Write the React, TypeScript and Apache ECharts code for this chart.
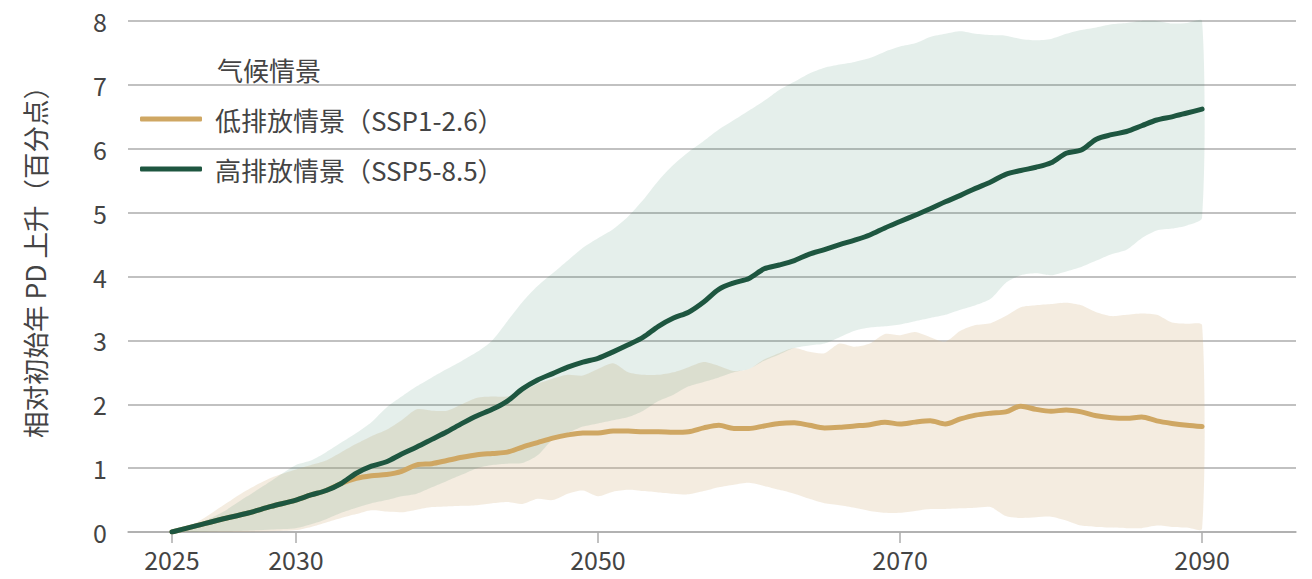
import React, { useEffect, useRef } from "react";
import * as echarts from "echarts";

const years = [
  2025, 2026, 2027, 2028, 2029, 2030, 2031, 2032, 2033, 2034,
  2035, 2036, 2037, 2038, 2039, 2040, 2041, 2042, 2043, 2044,
  2045, 2046, 2047, 2048, 2049, 2050, 2051, 2052, 2053, 2054,
  2055, 2056, 2057, 2058, 2059, 2060, 2061, 2062, 2063, 2064,
  2065, 2066, 2067, 2068, 2069, 2070, 2071, 2072, 2073, 2074,
  2075, 2076, 2077, 2078, 2079, 2080, 2081, 2082, 2083, 2084,
  2085, 2086, 2087, 2088, 2089, 2090,
];

// SSP1-2.6 median
const lowMedian = [
  0, 0.1, 0.2, 0.29, 0.4, 0.5, 0.58, 0.65, 0.76, 0.84,
  0.88, 0.9, 0.95, 1.05, 1.07, 1.12, 1.17, 1.21, 1.23, 1.25,
  1.33, 1.4, 1.47, 1.52, 1.55, 1.55, 1.58, 1.58, 1.57, 1.57,
  1.56, 1.57, 1.63, 1.67, 1.62, 1.62, 1.66, 1.7, 1.71, 1.67,
  1.63, 1.64, 1.66, 1.68, 1.72, 1.69, 1.72, 1.74, 1.69, 1.77,
  1.83, 1.86, 1.88, 1.97, 1.92, 1.89, 1.91, 1.88, 1.82, 1.79,
  1.78, 1.8, 1.74, 1.7, 1.67, 1.65,
];

// SSP5-8.5 median
const highMedian = [
  0, 0.1, 0.2, 0.29, 0.4, 0.5, 0.58, 0.65, 0.76, 0.92,
  1.03, 1.1, 1.22, 1.33, 1.45, 1.57, 1.7, 1.82, 1.92, 2.05,
  2.24, 2.38, 2.48, 2.58, 2.66, 2.72, 2.82, 2.93, 3.05, 3.22,
  3.35, 3.44, 3.6, 3.8, 3.9, 3.97, 4.12, 4.18, 4.25, 4.35,
  4.42, 4.5, 4.57, 4.65, 4.76, 4.86, 4.96, 5.06, 5.17, 5.27,
  5.38, 5.48, 5.6, 5.66, 5.71, 5.78, 5.93, 5.98, 6.15, 6.22,
  6.27, 6.36, 6.45, 6.5, 6.56, 6.62,
];

const lowUpper = [
  0, 0.15, 0.4, 0.65, 0.85, 0.98, 1.05, 1.12, 1.25, 1.38,
  1.5, 1.6, 1.75, 1.92, 1.9, 1.9, 2.0, 2.1, 2.12, 2.12,
  2.2, 2.32, 2.4, 2.46, 2.45, 2.55, 2.64, 2.5, 2.46, 2.46,
  2.5, 2.58, 2.66, 2.6, 2.52, 2.55, 2.7, 2.8, 2.88, 2.82,
  2.8, 2.95, 2.9, 2.95, 3.1, 3.08, 3.13, 3.05, 2.98, 3.15,
  3.24, 3.27, 3.38, 3.52, 3.55, 3.57, 3.59, 3.55, 3.44, 3.38,
  3.4, 3.42, 3.4, 3.28, 3.26, 3.24,
];

const lowLower = [
  0, 0, 0, 0, 0.01, 0.03, 0.08, 0.15, 0.22, 0.28,
  0.34, 0.32, 0.31, 0.35, 0.39, 0.4, 0.41, 0.42, 0.45, 0.47,
  0.44, 0.52, 0.5, 0.6, 0.65, 0.56, 0.63, 0.66, 0.64, 0.62,
  0.6, 0.59, 0.64, 0.7, 0.74, 0.77, 0.72, 0.66, 0.6, 0.52,
  0.45, 0.42, 0.38, 0.33, 0.3, 0.3, 0.33, 0.36, 0.36, 0.37,
  0.38, 0.39, 0.25, 0.22, 0.23, 0.24, 0.18, 0.1, 0.08, 0.07,
  0.06, 0.06, 0.1, 0.08, 0.07, 0.05,
];

const highUpper = [
  0, 0.12, 0.3, 0.55, 0.8, 1.05, 1.12, 1.25, 1.4, 1.55,
  1.72, 1.95, 2.12, 2.28, 2.42, 2.55, 2.68, 2.82, 3.0, 3.3,
  3.6, 3.85, 4.05, 4.25, 4.45, 4.6, 4.74, 4.94, 5.2, 5.5,
  5.75, 5.95, 6.12, 6.3, 6.45, 6.6, 6.75, 6.92, 7.05, 7.18,
  7.27, 7.32, 7.36, 7.42, 7.52, 7.6, 7.65, 7.75, 7.8, 7.84,
  7.8, 7.78, 7.77, 7.72, 7.7, 7.72, 7.8, 7.86, 7.9, 7.95,
  7.97, 8.0, 8.0, 7.96, 7.97, 8.0,
];

const highLower = [
  0, 0, 0.01, 0.02, 0.04, 0.06, 0.12, 0.2, 0.3, 0.38,
  0.45, 0.5, 0.56, 0.6, 0.7, 0.8, 0.9, 1.0, 1.05, 1.07,
  1.08, 1.2, 1.45, 1.55, 1.65, 1.7, 1.75, 1.8, 1.9, 2.05,
  2.15, 2.28, 2.35, 2.42, 2.5, 2.55, 2.68, 2.78, 2.88, 2.92,
  2.95, 3.05, 3.15, 3.2, 3.22, 3.25, 3.3, 3.35, 3.4, 3.48,
  3.55, 3.65, 3.9, 4.02, 4.05, 4.02, 4.08, 4.15, 4.25, 4.35,
  4.42, 4.6, 4.72, 4.75, 4.8, 4.92,
];

const xTickYears = [2025, 2030, 2050, 2070, 2090];
const yTicks = [0, 1, 2, 3, 4, 5, 6, 7, 8];

const LOW_NAME = "低排放情景（SSP1-2.6）";
const HIGH_NAME = "高排放情景（SSP5-8.5）";
const LEGEND_TITLE = "气候情景";
const Y_NAME = "相对初始年 PD 上升（百分点）";

// The source chart stretches its first five years (2025-2030) on the axis.
const START_POS = 2021.79;
const axisPos = (y: number) => (y >= 2030 ? y : START_POS + ((y - 2025) * (2030 - START_POS)) / 5);
const posLabel = (v: number) => {
  const idx = xTickYears.findIndex((y) => Math.abs(axisPos(y) - v) < 0.01);
  return idx >= 0 ? String(xTickYears[idx]) : "";
};

const FONT = "'Noto Sans CJK SC', 'Noto Sans', sans-serif";
const TEXT = "#444444";
const GRID = "#acacac";

export default function App() {
  const ref = useRef<HTMLDivElement>(null);
  useEffect(() => {
    document.body.style.margin = "0";
    if (!ref.current) return;
    const chart = echarts.init(ref.current, undefined, { renderer: "svg" });
    const xs = years.map(axisPos);
    const pair = (arr: number[]) => arr.map((v, i) => [xs[i], v]);

    const band = (lower: number[], upper: number[], fill: string) => ({
      type: "custom" as const,
      silent: true,
      data: xs.map((x, i) => [x, lower[i], upper[i]]),
      encode: { x: 0, y: [1, 2] },
      renderItem: (params: any, api: any) => {
        if (params.dataIndex !== 0) return null;
        const top = xs.map((x, i) => api.coord([x, upper[i]]));
        const bottom = xs.map((x, i) => api.coord([x, lower[i]])).reverse();
        return {
          type: "polygon",
          shape: { points: top.concat(bottom), smooth: 0.25 },
          style: { fill },
        };
      },
      z: 2,
    });

    chart.setOption({
      animation: false,
      textStyle: { fontFamily: FONT },
      grid: { left: 128, right: 16, top: 21, bottom: 47, containLabel: false },
      xAxis: {
        type: "value",
        min: 2018.88,
        max: 2096.22,
        axisLine: { show: true, lineStyle: { color: GRID, width: 1.5 } },
        axisTick: {
          show: true,
          length: 11,
          lineStyle: { color: GRID, width: 1.5 },
          customValues: xTickYears.map(axisPos),
        },
        axisLabel: {
          customValues: xTickYears.map(axisPos),
          formatter: (v: number) => posLabel(v),
          fontSize: 25,
          color: TEXT,
          margin: 14,
          fontFamily: FONT,
        },
        splitLine: { show: false },
      },
      yAxis: {
        type: "value",
        min: 0,
        max: 8,
        interval: 1,
        axisLine: { show: false },
        axisTick: { show: false },
        axisLabel: {
          fontSize: 25,
          color: TEXT,
          margin: 21,
          fontFamily: FONT,
          formatter: (v: number) => (yTicks.includes(v) ? String(v) : ""),
        },
        splitLine: { lineStyle: { color: GRID, width: 1.5 } },
        name: Y_NAME,
        nameLocation: "middle",
        nameGap: 80,
        nameRotate: 90,
        nameTextStyle: { fontSize: 26.5, color: TEXT, fontFamily: FONT, padding: [0, 0, 0, 42] },
      },
      legend: {
        data: [LOW_NAME, HIGH_NAME],
        orient: "vertical",
        left: 135,
        top: 98,
        itemWidth: 62,
        itemHeight: 5,
        itemGap: 18,
        icon: "roundRect",
        textStyle: { fontSize: 26, color: TEXT, fontFamily: FONT, lineHeight: 32, padding: [0, 0, 0, 8] },
        selectedMode: false,
      },
      graphic: [
        {
          type: "text",
          left: 217,
          top: 56,
          style: { text: LEGEND_TITLE, fontSize: 26, fill: TEXT, fontFamily: FONT },
        },
      ],
      series: [
        band(lowLower, lowUpper, "rgba(211,179,131,0.25)"),
        band(highLower, highUpper, "rgba(38,122,88,0.12)"),
        {
          type: "line",
          name: LOW_NAME,
          data: pair(lowMedian),
          smooth: 0.3,
          symbol: "none",
          color: "#cfa763",
          lineStyle: { color: "#cfa763", width: 5, cap: "round", join: "round" },
          z: 3,
        },
        {
          type: "line",
          name: HIGH_NAME,
          data: pair(highMedian),
          smooth: 0.3,
          symbol: "none",
          color: "#1e5640",
          lineStyle: { color: "#1e5640", width: 5, cap: "round", join: "round" },
          z: 4,
        },
      ],
    });
    return () => chart.dispose();
  }, []);
  return <div ref={ref} style={{ width: 1312, height: 579 }} />;
}
